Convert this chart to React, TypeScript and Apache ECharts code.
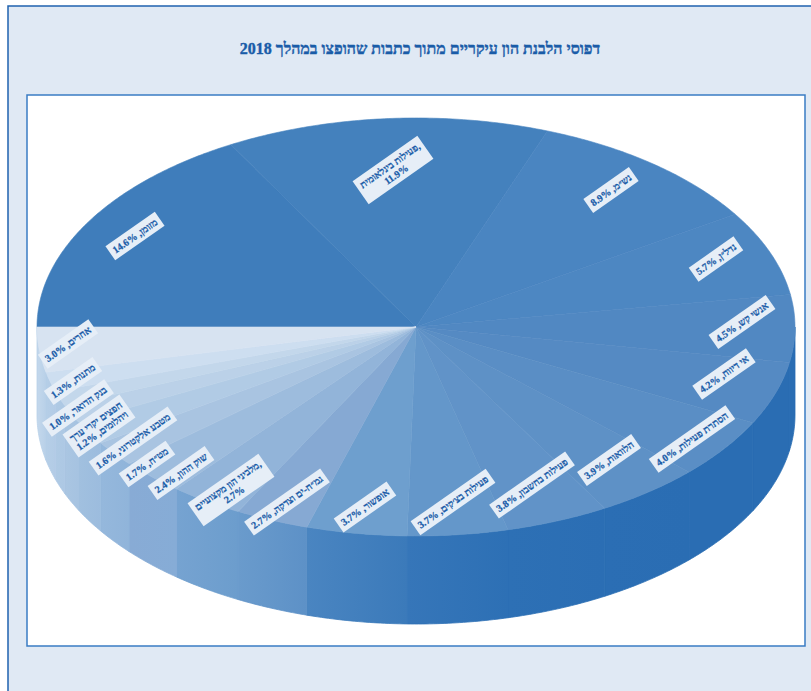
import React, { useEffect, useRef } from "react";
import * as echarts from "echarts";

const chartTitle = "דפוסי הלבנת הון עיקריים מתוך כתבות שהופצו במהלך 2018";

// Laundering patterns, clockwise from the nine o'clock position.
const categories = [
  "מזומן", "פעילות בינלאומית", "נש״מ", "נדל״ן", "אנשי קש", "אי דיווח", "הסתרת פעילות",
  "הלוואות", "פעילות בחשבון", "פעילות בצ׳קים", "אופשור", "גמ״ח-ים וצדקה",
  "מלביני הון מקצועיים", "שוק ההון", "מט״ח", "מטבע אלקטרוני", "חפצים יקרי ערך ויהלומים",
  "בנק הדואר", "מתנות", "אחרים",
];
const shares = [14.6, 11.9, 8.9, 5.7, 4.5, 4.2, 4.0, 3.9, 3.8, 3.7, 3.7, 2.7, 2.7, 2.4, 1.7, 1.6, 1.2, 1.0, 1.3, 3.0];

// Label wording with its own line breaks; "{v}" is replaced by the share.
const labelFormats = [
  "מזומן, {v}", "פעילות בינלאומית,\n{v}", "נש״מ, {v}", "נדל״ן, {v}", "אנשי קש, {v}", "אי דיווח, {v}",
  "הסתרת פעילות, {v}", "הלוואות, {v}", "פעילות בחשבון, {v}", "פעילות בצ׳קים, {v}", "אופשור, {v}",
  "גמ״ח-ים וצדקה, {v}", "מלביני הון מקצועיים,\n{v}", "שוק ההון, {v}", "מט״ח, {v}", "מטבע אלקטרוני, {v}",
  "חפצים יקרי ערך\nויהלומים, {v}", "בנק הדואר, {v}", "מתנות, {v}", "אחרים, {v}",
];

const topColors = [
  "#3f7dbb", "#4481bd", "#4a85c1", "#4d87c2", "#5188c2", "#558ac3", "#5a8ec5", "#5e91c6", "#6193c8", "#6497ca",
  "#6e9fce", "#86a9d3", "#92b4d9", "#9dbcdd", "#a9c4e1", "#b1cbe5", "#bbd1e8", "#c3d7eb", "#cddef0", "#d7e3f1",
];
// Side wall colours per slice: left edge, right edge.
const sideColors: [string, string][] = [
  ["#2a6db3", "#2a6db3"], ["#2a6db3", "#2a6db3"], ["#2a6db3", "#2a6db3"], ["#2a6db3", "#2a6db3"],
  ["#2a6db3", "#2a6db3"], ["#2a6db3", "#2a6db3"], ["#2a6db3", "#2a6db3"], ["#2b6eb4", "#2a6db3"],
  ["#2d70b5", "#2b6eb4"], ["#3676b9", "#2d70b5"], ["#4a85c1", "#3b7aba"], ["#6a9bcc", "#5d91c7"],
  ["#76a3d1", "#6c9dcd"], ["#88abd5", "#86acd6"], ["#95b8dc", "#90b4da"], ["#a1c0df", "#9cbcde"],
  ["#aac6e2", "#a6c3e1"], ["#afcae4", "#adc8e4"], ["#b5cee7", "#b3cce6"], ["#c4d8ec", "#b8d0e8"],
];

// Centre of each rotated label box on the page.
const labelCentres = [
  [135, 236], [393, 170], [611, 190], [716, 259], [742, 322], [724, 374], [692, 439], [609, 460], [532, 485], [453, 502],
  [365, 507], [287, 502], [231, 490], [181, 473], [147, 464], [133, 441], [99, 426], [78, 408], [73, 381], [68, 344],
];

const PIE = { cx: 416, cy: 327, rx: 379, ry: 209, depth: 88 };
const total = shares.reduce((a, b) => a + b, 0);
const angleBefore = (i: number) => (shares.slice(0, i).reduce((a, b) => a + b, 0) / total) * Math.PI * 2;

// Angle runs clockwise from the left end of the ellipse.
const rimPoint = (t: number, drop = 0) => [
  PIE.cx - PIE.rx * Math.cos(t),
  PIE.cy - PIE.ry * Math.sin(t) + drop,
];
const arcPoints = (a: number, b: number, drop = 0) => {
  const n = Math.max(2, Math.ceil(Math.abs(b - a) / 0.01));
  const pts: number[][] = [];
  for (let k = 0; k <= n; k++) pts.push(rimPoint(a + ((b - a) * k) / n, drop));
  return pts;
};

const sliceData = shares.map((v, i) => ({ value: [v, i], name: categories[i] }));

function renderTop(_: any, api: any) {
  const i = api.value(1);
  const a = angleBefore(i);
  const b = a + (api.value(0) / total) * Math.PI * 2;
  const color = topColors[i];
  return {
    type: "polygon",
    shape: { points: [[PIE.cx, PIE.cy], ...arcPoints(a, b)] },
    style: { fill: color, stroke: color, lineWidth: 0.6 },
  };
}

function renderSide(_: any, api: any) {
  const i = api.value(1);
  const a = Math.max(angleBefore(i), Math.PI);
  const b = angleBefore(i) + (api.value(0) / total) * Math.PI * 2;
  if (b <= Math.PI) return null;
  const upper = arcPoints(a, b);
  const lower = arcPoints(b, a, PIE.depth);
  const xs = upper.map((p) => p[0]);
  const [leftColor, rightColor] = sideColors[i];
  const fill = {
    type: "linear", global: true,
    x: Math.min(...xs), y: 0, x2: Math.max(...xs), y2: 0,
    colorStops: [{ offset: 0, color: leftColor }, { offset: 1, color: rightColor }],
  };
  return {
    type: "polygon",
    shape: { points: [...upper, ...lower] },
    style: { fill, stroke: rightColor, lineWidth: 0.8 },
  };
}

function renderLabel(_: any, api: any) {
  const i = api.value(1);
  const [x, y] = labelCentres[i];
  const text = labelFormats[i].replace("{v}", `${api.value(0).toFixed(1)}%`);
  return {
    type: "text",
    x, y,
    rotation: (35 * Math.PI) / 180,
    style: {
      text,
      align: "center",
      verticalAlign: "middle",
      fontFamily: "'Liberation Serif', 'DejaVu Serif', serif",
      fontSize: 10,
      fontWeight: "bold",
      lineHeight: 11,
      fill: "#1a5ca8",
      stroke: "#1a5ca8",
      lineWidth: 0.25,
      backgroundColor: "#e6eef7",
      padding: [3, 4],
    },
  };
}

export default function App() {
  const ref = useRef<HTMLDivElement>(null);
  useEffect(() => {
    const chart = echarts.init(ref.current!, null, { renderer: "svg" });
    const pieSeries = (render: any, z: number) => ({
      type: "custom", coordinateSystem: "none", renderItem: render, data: sliceData, z, silent: true,
      encode: { value: 0 },
    });
    chart.setOption({
      animation: false,
      backgroundColor: "#ffffff",
      title: {
        text: chartTitle, left: 415, top: 35, textAlign: "center",
        textStyle: {
          fontFamily: "'Liberation Serif', serif", fontSize: 16, fontWeight: "bold", color: "#1a5ca8",
          textBorderColor: "#1a5ca8", textBorderWidth: 0.4,
        },
      },
      graphic: [
        { type: "rect", z: -10, shape: { x: 8, y: 6, width: 830, height: 720 }, style: { fill: "#e0e9f4", stroke: "#1f62ae", lineWidth: 1.5 } },
        { type: "rect", z: -9, shape: { x: 27, y: 95, width: 778, height: 551 }, style: { fill: "#ffffff", stroke: "#3a7cc4", lineWidth: 1.5 } },
      ],
      series: [pieSeries(renderSide, 2), pieSeries(renderTop, 3), pieSeries(renderLabel, 4)],
    });
    return () => chart.dispose();
  }, []);
  return <div ref={ref} style={{ position: "fixed", left: 0, top: 0, width: 811, height: 691 }} />;
}
